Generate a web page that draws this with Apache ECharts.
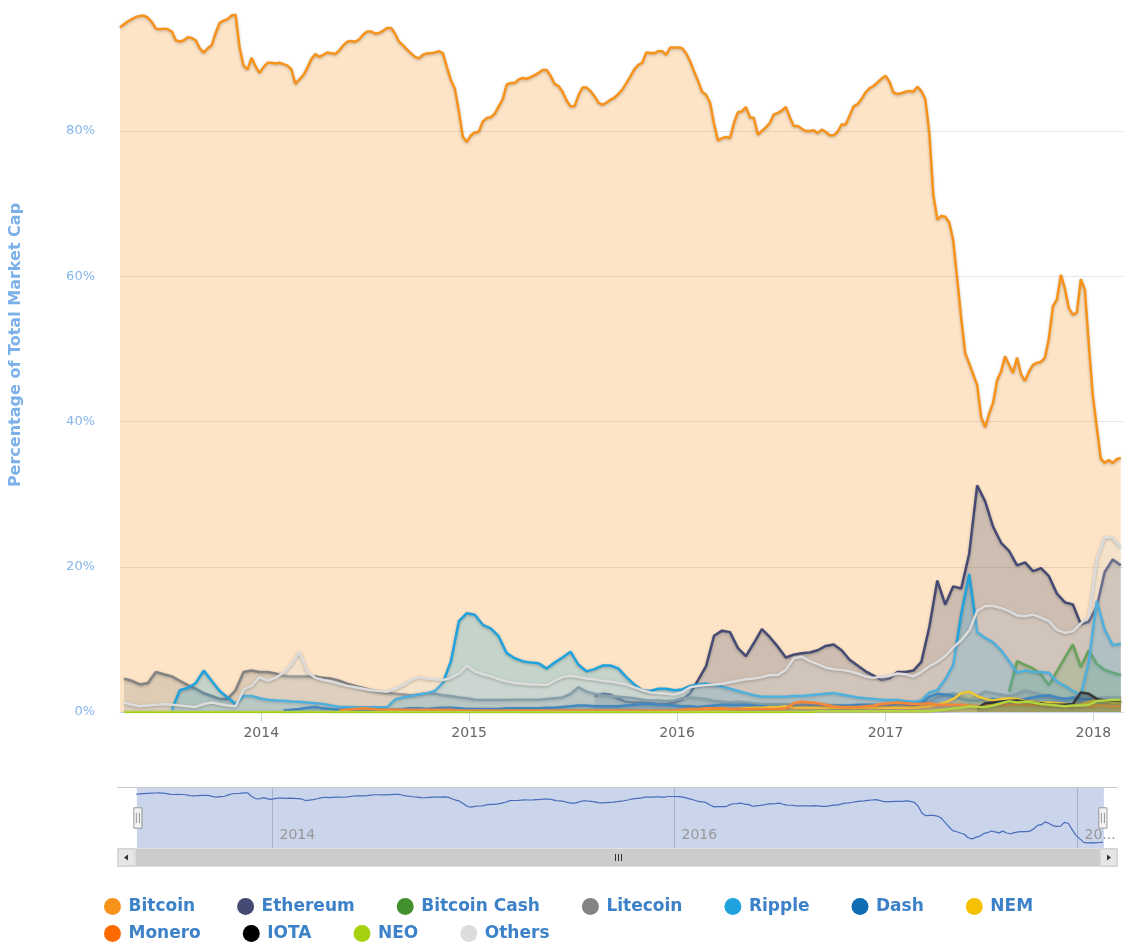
<!DOCTYPE html>
<html>
<head>
<meta charset="utf-8">
<script src="https://cdn.jsdelivr.net/npm/echarts@6/dist/echarts.min.js"></script>
<style>
html,body{margin:0;padding:0;background:#fff;}
#dominance{width:1125px;height:949px;}
</style>
</head>
<body>
<div id="dominance"></div>
<script>
var DAY = 86400000;

// weekly samples, first one 2013-04-28
var btcStart = Date.UTC(2013, 3, 28);
var btcValues = [
    94.3,94.7,95.1,95.4,95.7,95.85,95.9,95.6,95.0,94.1,
    94.0,94.1,94.0,93.7,92.5,92.3,92.5,92.9,92.8,92.5,
    91.4,90.8,91.4,91.8,93.5,94.9,95.2,95.4,95.9,96.0,
    91.5,89.0,88.5,90.1,88.9,88.0,88.8,89.4,89.4,89.3,
    89.4,89.2,89.0,88.5,86.5,87.1,87.7,88.7,89.9,90.6,
    90.2,90.5,90.8,90.7,90.6,91.1,91.8,92.3,92.4,92.3,
    92.6,93.3,93.7,93.7,93.4,93.5,93.8,94.2,94.2,93.4,
    92.3,91.8,91.2,90.7,90.2,90.0,90.5,90.7,90.7,90.8,
    91.0,90.7,88.8,87.0,85.8,82.7,79.2,78.5,79.4,79.8,
    79.9,81.3,81.8,81.9,82.4,83.4,84.4,86.4,86.6,86.6,
    87.1,87.3,87.2,87.4,87.7,88.0,88.4,88.4,87.6,86.5,
    86.2,85.4,84.2,83.4,83.4,84.9,86.0,86.0,85.5,84.8,
    83.9,83.6,83.9,84.3,84.6,85.1,85.7,86.6,87.5,88.5,
    89.1,89.4,90.8,90.75,90.7,91.0,91.0,90.5,91.5,91.5,
    91.5,91.4,90.7,89.6,88.2,86.9,85.4,85.0,83.9,81.0,
    78.7,79.0,79.2,79.0,81.1,82.6,82.7,83.3,81.9,81.8,
    79.5,80.0,80.5,81.1,82.3,82.5,82.8,83.3,81.9,80.7,
    80.7,80.3,80.0,80.0,80.1,79.7,80.2,79.9,79.4,79.4,
    79.9,80.9,80.9,82.1,83.4,83.7,84.4,85.3,85.9,86.2,
    86.7,87.2,87.6,86.8,85.3,85.1,85.2,85.4,85.5,85.4,
    86.1,85.5,84.4,79.7,71.2,67.8,68.3,68.2,67.4,64.9,
    59.6,54.2,49.4,48.0,46.5,45.0,40.6,39.2,41.1,42.6,
    45.7,46.9,49.0,47.8,46.7,48.8,46.5,45.6,46.9,47.8,
    48.1,48.2,48.8,51.5,55.9,56.8,60.2,58.3,55.6,54.7,
    55.0,59.6,58.2,50.6,43.6,39.2,34.9,34.3,34.7,34.3,
    34.8,35.0
];

// the other coins: every two weeks, first one 2013-05-05
var biStart = Date.UTC(2013, 4, 5);

var ltcValues = [
    4.6,4.3,3.8,4.0,5.5,5.2,4.9,4.3,3.7,3.2,
    2.6,2.2,1.8,1.8,3.0,5.5,5.7,5.5,5.5,5.3,
    5.0,4.9,4.9,4.9,4.9,4.7,4.6,4.3,3.9,3.6,
    3.3,3.0,2.8,2.6,2.5,2.4,2.3,2.4,2.6,2.5,
    2.3,2.2,2.0,1.9,1.7,1.65,1.65,1.65,1.65,1.7,
    1.7,1.7,1.7,1.8,1.9,2.0,2.5,3.4,2.8,2.5,
    2.3,2.2,2.1,2.0,1.9,1.7,1.6,1.6,1.5,1.6,
    1.9,2.0,1.9,1.8,1.5,1.4,1.3,1.4,1.3,1.2,
    1.1,1.1,1.1,1.1,1.0,1.0,1.0,1.0,0.9,0.9,
    0.8,0.8,0.8,0.8,0.7,0.8,0.7,0.8,0.9,1.0,
    1.2,1.4,2.0,2.3,2.6,2.2,1.8,2.2,2.8,2.6,
    2.4,2.2,2.5,3.0,2.7,2.4,2.0,1.9,1.8,1.9,
    2.5,2.3,1.9,2.0,2.0,2.0
];
var xrpFrom = 6;
var xrpValues = [
    0.3,3.0,3.3,4.0,
    5.7,4.3,2.9,2.0,1.1,2.2,2.2,1.9,1.7,1.6,
    1.55,1.45,1.4,1.3,1.2,1.1,0.9,0.7,0.7,0.65,
    0.65,0.65,0.65,0.65,1.7,2.0,2.2,2.4,2.6,2.9,
    4.0,7.0,12.5,13.6,13.4,12.0,11.5,10.4,8.1,7.4,
    7.0,6.8,6.7,6.0,6.8,7.5,8.3,6.5,5.6,5.9,
    6.4,6.4,6.0,4.8,3.8,3.0,2.9,3.2,3.2,3.0,
    3.1,3.6,3.8,3.9,3.7,3.5,3.2,2.9,2.6,2.3,
    2.1,2.1,2.1,2.1,2.2,2.2,2.3,2.4,2.5,2.6,
    2.4,2.2,2.0,1.9,1.8,1.7,1.65,1.65,1.5,1.4,
    1.6,2.7,3.0,4.5,6.5,13.5,19.0,11.0,10.2,9.6,
    8.5,7.0,5.4,5.7,5.5,5.5,5.4,4.2,3.6,2.9,
    2.3,7.0,15.3,11.3,9.2,9.4
];
var ethFrom = 59;
var ethValues = [
    2.2,
    2.5,2.4,1.8,1.4,1.3,1.3,1.2,1.1,1.1,1.3,
    1.7,2.6,4.4,6.3,10.5,11.2,11.0,8.8,7.7,9.5,
    11.4,10.3,9.0,7.5,7.9,8.1,8.2,8.5,9.1,9.3,
    8.5,7.2,6.4,5.6,5.0,4.4,4.6,5.5,5.5,5.7,
    6.9,11.7,18.1,14.8,17.3,17.0,21.8,31.2,29.0,25.5,
    23.3,22.2,20.2,20.6,19.4,19.8,18.7,16.3,15.1,14.8,
    12.1,12.4,14.5,19.3,21.0,20.2
];
var otherValues = [
    1.3,1.0,0.8,0.9,1.0,1.1,1.0,0.9,0.8,0.7,
    1.1,1.3,1.1,0.9,0.8,3.1,3.6,4.8,4.3,4.7,
    5.4,6.6,8.3,5.5,4.7,4.4,4.2,3.9,3.6,3.4,
    3.2,3.0,2.9,2.8,3.2,3.7,4.4,4.8,4.6,4.5,
    4.4,4.7,5.3,6.4,5.6,5.2,4.9,4.5,4.2,4.0,
    3.9,3.8,3.8,3.7,4.3,4.8,5.0,4.8,4.6,4.5,
    4.3,4.2,4.0,3.8,3.4,3.0,2.7,2.6,2.5,2.4,
    2.7,3.4,3.6,3.7,3.8,3.9,4.1,4.3,4.5,4.6,
    4.8,5.1,5.1,5.8,7.4,7.6,7.0,6.6,6.1,5.9,
    5.8,5.6,5.3,4.9,4.7,4.9,5.0,5.3,5.2,4.9,
    5.5,6.3,6.9,7.7,8.9,9.9,11.2,13.9,14.6,14.6,
    14.3,13.9,13.3,13.2,13.4,13.0,12.5,11.3,10.9,11.1,
    12.2,13.1,21.0,24.1,24.0,22.7
];
var bchFrom = 111;
var bchValues = [2.8,7.0,6.5,6.0,5.2,3.7,5.6,7.5,9.3,6.2,8.5,6.6,5.8,5.4,5.1];
var dashFrom = 20;
var dashValues = [
    0.2,0.3,0.4,0.6,0.7,0.5,0.4,0.3,0.3,0.3,
    0.3,0.3,0.3,0.3,0.3,0.4,0.5,0.5,0.4,0.5,
    0.6,0.6,0.5,0.4,0.4,0.4,0.4,0.4,0.5,0.5,
    0.5,0.5,0.5,0.6,0.6,0.7,0.8,0.9,0.9,0.8,
    0.8,0.8,0.8,0.9,1.0,1.1,1.1,1.0,1.0,0.9,
    0.8,0.8,0.7,0.8,0.9,1.0,1.0,1.0,1.0,0.9,
    0.8,0.8,0.8,0.8,0.8,0.9,0.9,0.9,0.9,0.9,
    0.9,0.9,1.0,1.0,1.0,0.9,1.0,1.2,1.2,1.0,
    1.2,2.1,2.5,2.4,2.2,1.8,1.6,1.6,1.7,1.8,
    1.6,1.6,1.5,1.8,2.0,2.2,2.3,2.0,1.8,2.0,
    1.8,1.8,1.6,1.5,1.3,1.4
];
var nemFrom = 50;
var nemValues = [
    0.05,0.05,0.06,0.06,0.07,0.07,0.08,0.08,0.08,0.08,
    0.08,0.08,0.08,0.07,0.07,0.07,0.07,0.08,0.1,0.1,
    0.1,0.12,0.15,0.2,0.3,0.3,0.35,0.4,0.5,0.6,
    0.6,0.7,0.7,0.8,0.6,0.6,0.6,0.6,0.6,0.6,
    0.6,0.55,0.55,0.6,0.6,0.6,0.6,0.6,0.6,0.6,
    0.7,0.8,1.0,1.3,1.8,2.6,2.8,2.2,1.8,1.6,
    1.8,1.9,1.8,1.5,1.4,1.3,1.3,1.2,1.1,1.0,
    1.0,1.4,1.7,1.5,1.3,1.3
];
var xmrFrom = 27;
var xmrValues = [
    0.2,0.3,0.4,
    0.5,0.4,0.3,0.3,0.3,0.3,0.3,0.3,0.3,0.3,
    0.3,0.3,0.2,0.2,0.2,0.2,0.2,0.2,0.2,0.2,
    0.2,0.2,0.2,0.2,0.2,0.2,0.2,0.2,0.2,0.2,
    0.2,0.2,0.2,0.2,0.2,0.2,0.2,0.2,0.2,0.2,
    0.3,0.4,0.4,0.5,0.5,0.5,0.4,0.4,0.4,0.4,
    0.4,0.4,0.4,0.5,1.2,1.4,1.3,1.2,1.0,0.8,
    0.7,0.7,0.7,0.8,0.9,1.1,1.2,1.3,1.2,1.1,
    1.1,1.2,1.0,1.0,1.0,1.0,0.9,0.8,0.9,1.0,
    1.0,1.0,1.1,1.0,1.0,1.0,0.9,0.9,0.8,0.8,
    0.9,0.8,0.9,0.9,0.8,0.8
];
var iotaFrom = 107;
var iotaValues = [0.5,1.2,1.3,1.4,1.5,1.6,1.4,1.3,1.2,1.0,1.0,1.0,1.1,2.7,2.5,1.8,1.6,1.6,1.5];
// NEO sits on the zero line until it gets listed
var neoFrom = 87;
var neoValues = [
    0.1,0.1,0.1,0.1,0.1,0.1,0.1,0.1,0.1,0.1,0.1,0.1,0.1,
    0.1,0.1,0.2,0.3,0.5,0.6,0.8,0.7,0.7,0.9,
    1.2,1.5,1.3,1.4,1.3,1.1,1.0,0.9,0.8,0.9,
    0.9,1.0,1.5,1.6,1.7,1.7
];

var yTicks = [0, 20, 40, 60, 80];
var navYears = [2014, 2016, 2018];
var coinNames = ['Bitcoin','Ethereum','Bitcoin Cash','Litecoin','Ripple','Dash','NEM','Monero','IOTA','NEO','Others'];
var coinColors = ['#f7931a','#454a75','#43902f','#838383','#1fa2dd','#0f6db5','#f6c100','#ff6a00','#000000','#a4d20f','#dcdcdc'];

window.onload = function(){
    dominanceChart();
};

function biDate(j){
    return biStart + j * 14 * DAY;
}
function pairs(vals, from, zeroBefore){
    var out = [];
    if (zeroBefore) {
        for (var j = 0; j < from; j++) out.push([biDate(j), 0]);
    }
    vals.forEach(function(v, k){ out.push([biDate(from + k), v]); });
    return out;
}
function areaSeries(idx, data){
    return {
        name: coinNames[idx],
        type: 'line',
        data: data,
        symbol: 'none',
        color: coinColors[idx],
        lineStyle: {width: 2.5, color: coinColors[idx], shadowColor: 'rgba(0,0,0,0.25)', shadowBlur: 3, shadowOffsetY: 1},
        areaStyle: {color: coinColors[idx], opacity: 0.25},
        emphasis: {disabled: true},
        z: 2 + idx * 0.01
    };
}

//市值占比图
function dominanceChart(){
    var chart = echarts.init(document.getElementById('dominance'));
    var btcData = btcValues.map(function(v, i){ return [btcStart + i * 7 * DAY, v]; });
    var xMin = btcStart, xMax = Date.UTC(2018, 1, 22);
    var navMax = btcStart + (btcValues.length - 1) * 7 * DAY;
    var font = 'DejaVu Sans';

    var series = [
        areaSeries(0, btcData),
        areaSeries(1, pairs(ethValues, ethFrom)),
        areaSeries(2, pairs(bchValues, bchFrom)),
        areaSeries(3, pairs(ltcValues, 0)),
        areaSeries(4, pairs(xrpValues, xrpFrom)),
        areaSeries(5, pairs(dashValues, dashFrom)),
        areaSeries(6, pairs(nemValues, nemFrom)),
        areaSeries(7, pairs(xmrValues, xmrFrom)),
        areaSeries(8, pairs(iotaValues, iotaFrom)),
        areaSeries(9, pairs(neoValues, neoFrom, true)),
        areaSeries(10, pairs(otherValues, 0))
    ];
    // navigator line
    series.push({
        name: 'navigator',
        type: 'line',
        xAxisIndex: 1,
        yAxisIndex: 1,
        data: btcData,
        symbol: 'none',
        lineStyle: {width: 1.2, color: '#3a62b8'},
        emphasis: {disabled: true},
        silent: true
    });

    var legendText = {color: '#3d82c8', fontWeight: 'bold', fontSize: 17, fontFamily: font};
    var legendBase = {icon: 'circle', itemWidth: 22, itemHeight: 17, itemGap: 42, left: 99, textStyle: legendText};
    var option = {
        animation: false,
        backgroundColor: '#fff',
        grid: [
            {left: 116, right: 2, top: 0, bottom: 237},
            {left: 136, right: 22, top: 788, height: 60}
        ],
        xAxis: [
            {
                type: 'time', min: xMin, max: xMax,
                minInterval: 365 * DAY,
                axisLine: {lineStyle: {color: '#ccd6eb'}},
                axisTick: {show: true, length: 10, lineStyle: {color: '#ccd6eb'}},
                axisLabel: {formatter: '{yyyy}', color: '#666', fontSize: 14, fontFamily: font, margin: 14},
                splitLine: {show: false}
            },
            {
                type: 'time', gridIndex: 1, min: btcStart, max: navMax,
                axisLine: {show: false}, axisTick: {show: false},
                axisLabel: {show: false}, splitLine: {show: false}
            }
        ],
        yAxis: [
            {
                type: 'value', min: 0, max: 98.04,
                interval: 20,
                name: 'Percentage of Total Market Cap',
                nameLocation: 'middle', nameGap: 96, nameRotate: 90,
                nameTextStyle: {color: '#7cb0e8', fontWeight: 'bold', fontSize: 16, fontFamily: font, padding: [0, 0, 0, 22]},
                axisLine: {show: false}, axisTick: {show: false},
                axisLabel: {
                    color: '#86b6ea', fontSize: 13, fontFamily: font, margin: 25,
                    formatter: function(v){ return yTicks.indexOf(v) >= 0 ? v + '%' : ''; }
                },
                splitLine: {showMaxLine: false, lineStyle: {color: '#e6e6e6'}}
            },
            {type: 'value', gridIndex: 1, min: 28, max: 102, show: false}
        ],
        dataZoom: [{
            type: 'slider', xAxisIndex: 0, filterMode: 'none',
            left: 136, right: 22, top: 788, height: 60,
            start: 0, end: 100,
            showDataShadow: false, showDetail: false, brushSelect: false,
            moveHandleSize: 0,
            backgroundColor: 'transparent', borderColor: 'transparent',
            fillerColor: 'rgba(102,133,194,0.35)',
            handleIcon: 'path://M-4,-10H4V10H-4Z M-1.5,-5V5 M1.5,-5V5',
            handleSize: '34%',
            handleStyle: {color: '#f2f2f2', borderColor: '#999', borderWidth: 1},
            emphasis: {handleStyle: {color: '#f2f2f2', borderColor: '#999'}}
        }],
        legend: [
            echarts.util.extend({data: coinNames.slice(0, 7), top: 893}, legendBase),
            echarts.util.extend({data: coinNames.slice(7), top: 920}, legendBase)
        ],
        series: series
    };
    chart.setOption(option);

    // navigator year lines and labels, placed with the navigator axis scale
    var graphics = [
        {type: 'line', shape: {x1: 117, y1: 787.5, x2: 1118, y2: 787.5}, style: {stroke: '#cccccc', lineWidth: 1}},
        {type: 'rect', shape: {x: 117.5, y: 848.5, width: 1000, height: 18}, style: {fill: '#f2f2f2', stroke: '#e0e0e0'}},
        {type: 'rect', shape: {x: 136, y: 849, width: 964, height: 17}, style: {fill: '#cccccc'}},
        {type: 'rect', shape: {x: 118, y: 849, width: 17, height: 17}, style: {fill: '#e6e6e6', stroke: '#cccccc'}},
        {type: 'rect', shape: {x: 1100, y: 849, width: 17, height: 17}, style: {fill: '#e6e6e6', stroke: '#cccccc'}},
        {type: 'polygon', shape: {points: [[124, 857.5], [128, 854.5], [128, 860.5]]}, style: {fill: '#333'}},
        {type: 'polygon', shape: {points: [[1111, 857.5], [1107, 854.5], [1107, 860.5]]}, style: {fill: '#333'}},
        {type: 'line', shape: {x1: 615.5, y1: 854, x2: 615.5, y2: 861}, style: {stroke: '#333'}},
        {type: 'line', shape: {x1: 618.5, y1: 854, x2: 618.5, y2: 861}, style: {stroke: '#333'}},
        {type: 'line', shape: {x1: 621.5, y1: 854, x2: 621.5, y2: 861}, style: {stroke: '#333'}}
    ];
    navYears.forEach(function(y){
        var px = Math.round(chart.convertToPixel({xAxisIndex: 1}, Date.UTC(y, 0, 1))) + 0.5;
        var room = Math.min(80, 1120 - (px + 7));
        graphics.push({type: 'line', z: 1, shape: {x1: px, y1: 788, x2: px, y2: 848}, style: {stroke: '#c3cbdc', lineWidth: 1}});
        graphics.push({type: 'text', z: 10, x: px + 7, y: 842, style: {
            text: String(y), fill: '#999', font: '14px "DejaVu Sans"', textAlign: 'left', textVerticalAlign: 'bottom',
            width: room, overflow: 'truncate', ellipsis: '...'
        }});
    });
    chart.setOption({graphic: graphics});
}
</script>
</body>
</html>
